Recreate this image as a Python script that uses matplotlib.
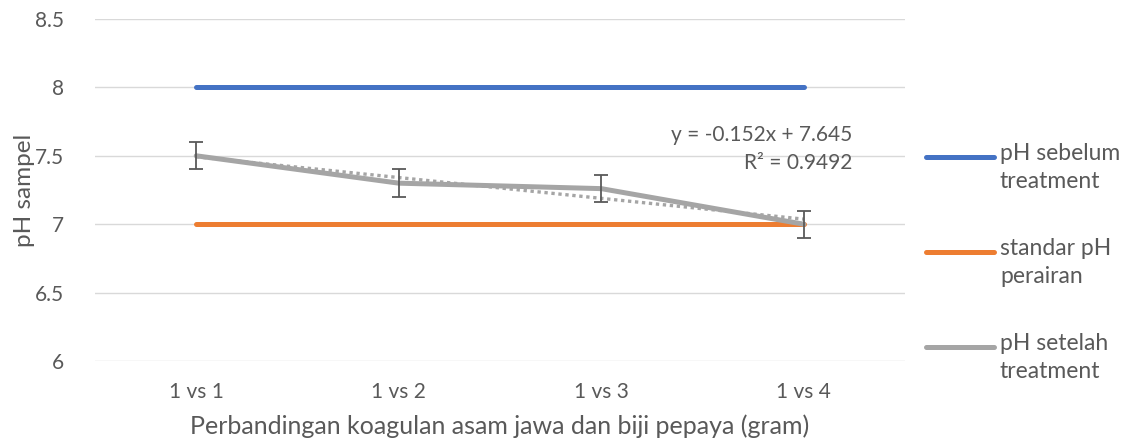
import matplotlib
matplotlib.use("Agg")
import matplotlib.pyplot as plt
from matplotlib.lines import Line2D
import numpy as np

categories = ["1 vs 1", "1 vs 2", "1 vs 3", "1 vs 4"]
ph_sebelum = [8.0, 8.0, 8.0, 8.0]
standar_ph = [7.0, 7.0, 7.0, 7.0]
ph_setelah = [7.5, 7.3, 7.26, 7.0]
err_setelah = [0.1, 0.1, 0.1, 0.1]
trend_slope = -0.152
trend_intercept = 7.645
trend_r2 = 0.9492
yticks = [6, 6.5, 7, 7.5, 8, 8.5]
ytick_labels = ["6", "6.5", "7", "7.5", "8", "8.5"]
series_names = ["pH sebelum\ntreatment", "standar pH\nperairan", "pH setelah\ntreatment"]
series_colors = ["#4472C4", "#ED7D31", "#A5A5A5"]

plt.rcParams['font.family'] = ['Lato', 'DejaVu Sans']
text_color = "#595959"

W, H = 1125, 446
fig = plt.figure(figsize=(W / 100, H / 100), dpi=100)
ax = fig.add_axes([95 / W, 1 - 361 / H, 810 / W, 342 / H])

x = np.arange(1, len(categories) + 1)
for vals, name, col, z in zip([ph_sebelum, standar_ph, ph_setelah], series_names, series_colors, [3, 3, 4]):
    ax.plot(x, vals, color=col, lw=3.6, solid_capstyle="round", label=name, zorder=z)
ax.errorbar(x, ph_setelah, yerr=err_setelah, fmt="none", ecolor="#595959", elinewidth=1.3, capsize=5, capthick=1.3, zorder=5)
trend = trend_slope * x + trend_intercept
ax.plot(x, trend, color="#A5A5A5", lw=2.4, linestyle=(0, (1, 1.1)), zorder=3.5)

ax.text(4.24, 7.553, f"y = {trend_slope}x + {trend_intercept}\nR² = {trend_r2}", ha="right", va="center",
        fontsize=15, color=text_color, linespacing=1.5, multialignment="right")

ax.set_xlim(0.5, 4.5)
ax.set_ylim(6, 8.5)
ax.set_xticks(x)
ax.set_xticklabels(categories)
ax.set_yticks(yticks)
ax.set_yticklabels(ytick_labels)
ax.grid(axis="y", color="#D9D9D9", lw=1)
ax.set_axisbelow(True)
for s in ["top", "right", "left", "bottom"]:
    ax.spines[s].set_visible(False)
ax.tick_params(axis="both", length=0, labelsize=15, colors=text_color)
ax.tick_params(axis="x", pad=15)
ax.tick_params(axis="y", pad=22)
ax.set_xlabel("Perbandingan koagulan asam jawa dan biji pepaya (gram)", fontsize=18, color=text_color, labelpad=9)
ax.set_ylabel("pH sampel", fontsize=17.5, color=text_color, labelpad=0)

# legend drawn at right, handle aligned with first text line
leg_y = [157, 252, 347]
for py, name, col in zip(leg_y, series_names, series_colors):
    fy = 1 - py / H
    fig.add_artist(Line2D([926 / W, 994 / W], [fy, fy], transform=fig.transFigure,
                          color=col, lw=3.6, solid_capstyle="round"))
    fig.text(1000 / W, fy + 14 / H, name, ha="left", va="top", fontsize=16.5,
             color=text_color, linespacing=1.42)

fig.savefig("out.png", dpi=100)
